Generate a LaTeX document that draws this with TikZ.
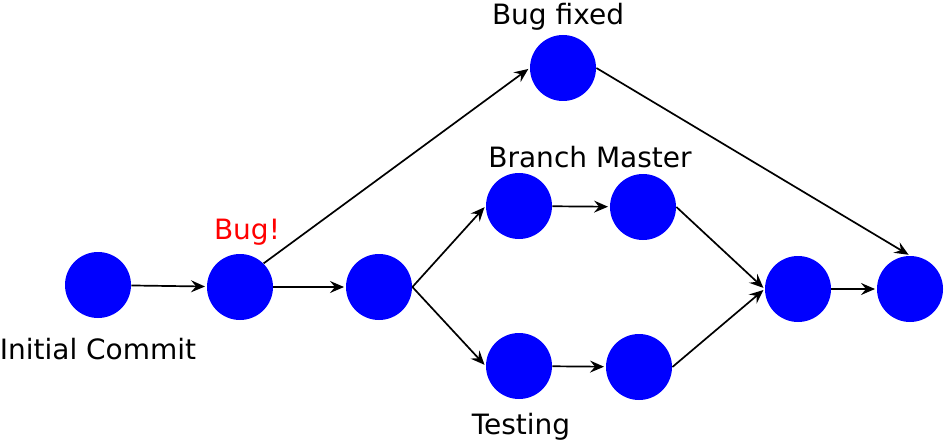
\documentclass[tikz,border=0pt]{standalone}
\usepackage{fontspec}
\setmainfont{DejaVu Sans}
\usetikzlibrary{arrows.meta}
\tikzset{
  commit/.style={circle, fill=blue, minimum size=33pt, inner sep=0pt},
  lbl/.style={font=\fontsize{14}{17}\selectfont, inner sep=0pt},
  arr/.style={-{Stealth[length=7pt,width=6pt,inset=2.5pt]}, line width=0.85pt, shorten >=0.8pt}
}
\begin{document}
\begin{tikzpicture}[x=0.5pt,y=-0.5pt]
\useasboundingbox (0,0) rectangle (945,443);
\node[commit] (cid0) at (98,285){};
\node[lbl] (lid0) at (98,349){Initial Commit};
\node[commit] (cid1) at (240,287){};
\node[lbl, red] (lid1) at (247,232){Bug!};
\draw[arr](cid0) -- (cid1);
\node[commit] (cid2) at (379,287){};
\draw[arr](cid1) -- (cid2);
\node[commit] (cid3) at (563,68){};
\node[lbl] (lid3) at (558,17){Bug fixed};
\draw[arr](cid1.north east) -- (cid3.west);
\node[commit] (cid4) at (519,206){};
\node[commit] (cid5) at (643,207){};
\node[lbl] (lid4) at (590,157){Branch Master};
\draw[arr](cid2.east) -- (cid4.west);
\draw[arr](cid4) -- (cid5);
\node[commit] (cid6) at (519,366){};
\node[commit] (cid7) at (639,367){};
\node[lbl] (lid6) at (521,427){Testing};
\draw[arr](cid2.east) -- (cid6.west);
\draw[arr](cid6) -- (cid7);
\node[commit] (cid8) at (798,289){};
\draw[arr](cid5.east) -- (cid8.west);
\draw[arr](cid7.east) -- (cid8.west);
\node[commit] (cid9) at (910,289){};
\draw[arr](cid8) -- (cid9);
\draw[arr](cid3.east) -- (cid9.north);
\end{tikzpicture}
\end{document}
